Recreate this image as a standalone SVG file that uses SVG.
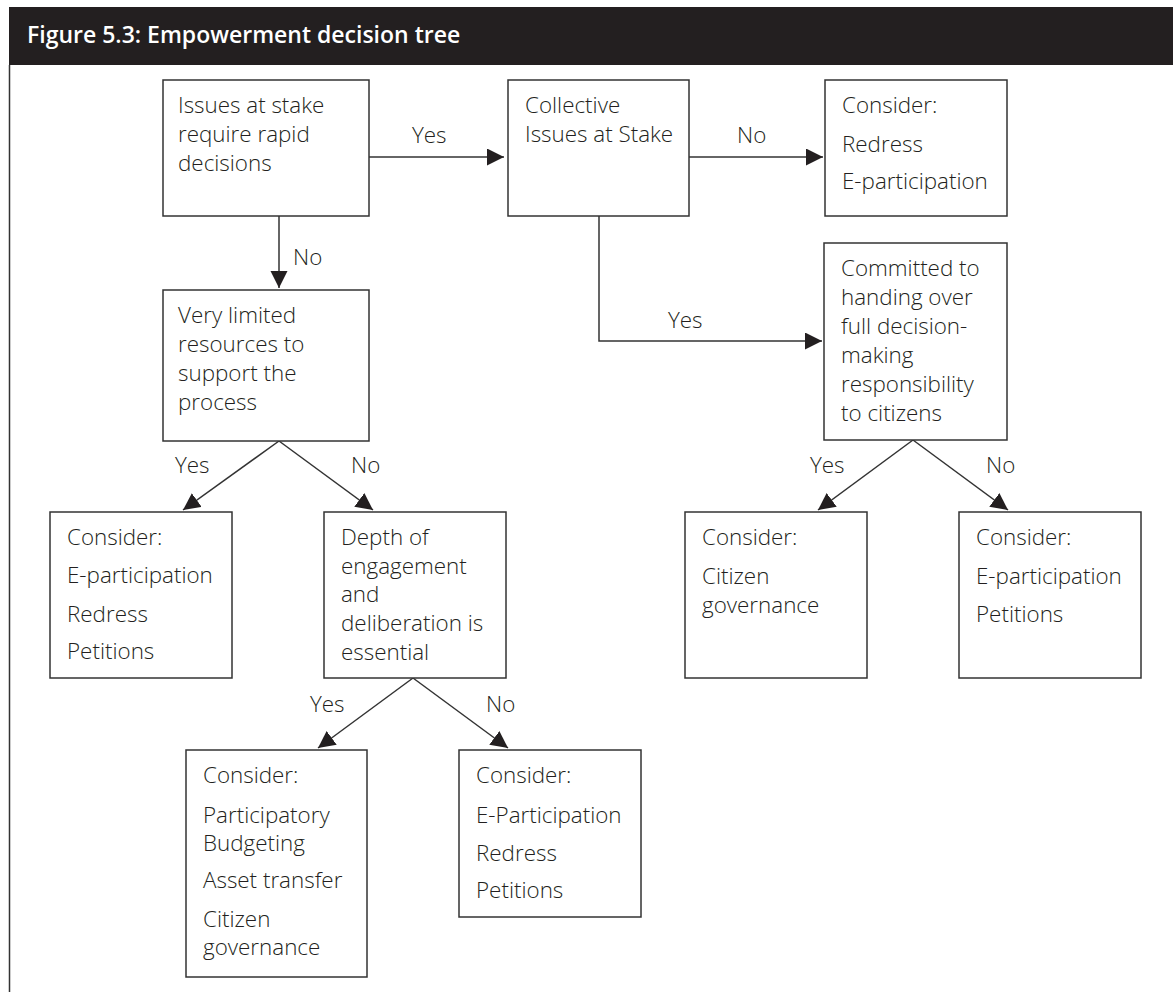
<svg xmlns="http://www.w3.org/2000/svg" width="1173" height="992" viewBox="0 0 1173 992">
<style>
.box{fill:#fff;stroke:#333;stroke-width:1.5}
.t{font-family:"Open Sans","Noto Sans","Liberation Sans",sans-serif;font-size:22.4px;fill:#231f20;font-weight:350}
.lbl{font-family:"Open Sans","Noto Sans","Liberation Sans",sans-serif;font-size:22.4px;fill:#231f20;font-weight:350}
.c{fill:none;stroke:#333;stroke-width:1.5}
.title{font-family:"Open Sans","Noto Sans","Liberation Sans",sans-serif;font-size:23px;font-weight:600;fill:#fff}
</style>
<defs>
<marker id="ah" markerUnits="userSpaceOnUse" markerWidth="18" markerHeight="18" refX="17" refY="8.5" orient="auto">
<path d="M0,0 L17,8.5 L0,17 z" fill="#231f20"/>
</marker>
</defs>
<rect x="0" y="0" width="1173" height="992" fill="#fff"/>
<g id="frame">
<rect x="9" y="7" width="1164" height="58" fill="#231f20"/>
<line x1="9.5" y1="65" x2="9.5" y2="992" stroke="#333" stroke-width="1.5"/>
<text class="title" x="27" y="43">Figure 5.3: Empowerment decision tree</text>
</g>
<g id="connectors">
<line class="c" x1="369" y1="157" x2="504" y2="157" marker-end="url(#ah)"/>
<line class="c" x1="689" y1="157" x2="823" y2="157" marker-end="url(#ah)"/>
<line class="c" x1="279" y1="216" x2="279" y2="288" marker-end="url(#ah)"/>
<polyline class="c" points="599,216 599,341 822,341" marker-end="url(#ah)"/>
<line class="c" x1="279" y1="441" x2="183" y2="510" marker-end="url(#ah)"/>
<line class="c" x1="279" y1="441" x2="373" y2="510" marker-end="url(#ah)"/>
<line class="c" x1="413" y1="678" x2="318" y2="748" marker-end="url(#ah)"/>
<line class="c" x1="413" y1="678" x2="508" y2="748" marker-end="url(#ah)"/>
<line class="c" x1="913" y1="440" x2="818" y2="510" marker-end="url(#ah)"/>
<line class="c" x1="913" y1="440" x2="1008" y2="510" marker-end="url(#ah)"/>
<text class="lbl" x="412" y="143">Yes</text>
<text class="lbl" x="737" y="143">No</text>
<text class="lbl" x="293" y="265">No</text>
<text class="lbl" x="668" y="328">Yes</text>
<text class="lbl" x="175" y="473">Yes</text>
<text class="lbl" x="351" y="473">No</text>
<text class="lbl" x="310" y="712">Yes</text>
<text class="lbl" x="486" y="712">No</text>
<text class="lbl" x="810" y="473">Yes</text>
<text class="lbl" x="986" y="473">No</text>
</g>
<g id="n-rapid">
<rect class="box" x="163" y="80" width="206" height="136"/>
<text class="t" x="178" y="113">Issues at stake</text>
<text class="t" x="178" y="142">require rapid</text>
<text class="t" x="178" y="171">decisions</text>
</g>
<g id="n-collective">
<rect class="box" x="508" y="80" width="181" height="136"/>
<text class="t" x="525" y="113">Collective</text>
<text class="t" x="525" y="142">Issues at Stake</text>
</g>
<g id="n-redress">
<rect class="box" x="825" y="80" width="182" height="136"/>
<text class="t" x="842" y="113">Consider:</text>
<text class="t" x="842" y="152">Redress</text>
<text class="t" x="842" y="189">E-participation</text>
</g>
<g id="n-resources">
<rect class="box" x="163" y="290" width="206" height="151"/>
<text class="t" x="178" y="323">Very limited</text>
<text class="t" x="178" y="352">resources to</text>
<text class="t" x="178" y="381">support the</text>
<text class="t" x="178" y="410">process</text>
</g>
<g id="n-committed">
<rect class="box" x="824" y="243" width="183" height="197"/>
<text class="t" x="841" y="276">Committed to</text>
<text class="t" x="841" y="305">handing over</text>
<text class="t" x="841" y="334">full decision-</text>
<text class="t" x="841" y="363">making</text>
<text class="t" x="841" y="392">responsibility</text>
<text class="t" x="841" y="421">to citizens</text>
</g>
<g id="n-consider1">
<rect class="box" x="50" y="512" width="182" height="166"/>
<text class="t" x="67" y="545">Consider:</text>
<text class="t" x="67" y="583">E-participation</text>
<text class="t" x="67" y="622">Redress</text>
<text class="t" x="67" y="659">Petitions</text>
</g>
<g id="n-depth">
<rect class="box" x="324" y="512" width="182" height="166"/>
<text class="t" x="341" y="545">Depth of</text>
<text class="t" x="341" y="574">engagement</text>
<text class="t" x="341" y="602">and</text>
<text class="t" x="341" y="631">deliberation is</text>
<text class="t" x="341" y="660">essential</text>
</g>
<g id="n-citizen">
<rect class="box" x="685" y="512" width="182" height="166"/>
<text class="t" x="702" y="545">Consider:</text>
<text class="t" x="702" y="584">Citizen</text>
<text class="t" x="702" y="613">governance</text>
</g>
<g id="n-petitions">
<rect class="box" x="959" y="512" width="182" height="166"/>
<text class="t" x="976" y="545">Consider:</text>
<text class="t" x="976" y="584">E-participation</text>
<text class="t" x="976" y="622">Petitions</text>
</g>
<g id="n-budgeting">
<rect class="box" x="186" y="750" width="181" height="227"/>
<text class="t" x="203" y="783">Consider:</text>
<text class="t" x="203" y="823">Participatory</text>
<text class="t" x="203" y="851">Budgeting</text>
<text class="t" x="203" y="888">Asset transfer</text>
<text class="t" x="203" y="927">Citizen</text>
<text class="t" x="203" y="955">governance</text>
</g>
<g id="n-eparticipation">
<rect class="box" x="459" y="750" width="182" height="167"/>
<text class="t" x="476" y="783">Consider:</text>
<text class="t" x="476" y="823">E-Participation</text>
<text class="t" x="476" y="861">Redress</text>
<text class="t" x="476" y="898">Petitions</text>
</g>
</svg>
